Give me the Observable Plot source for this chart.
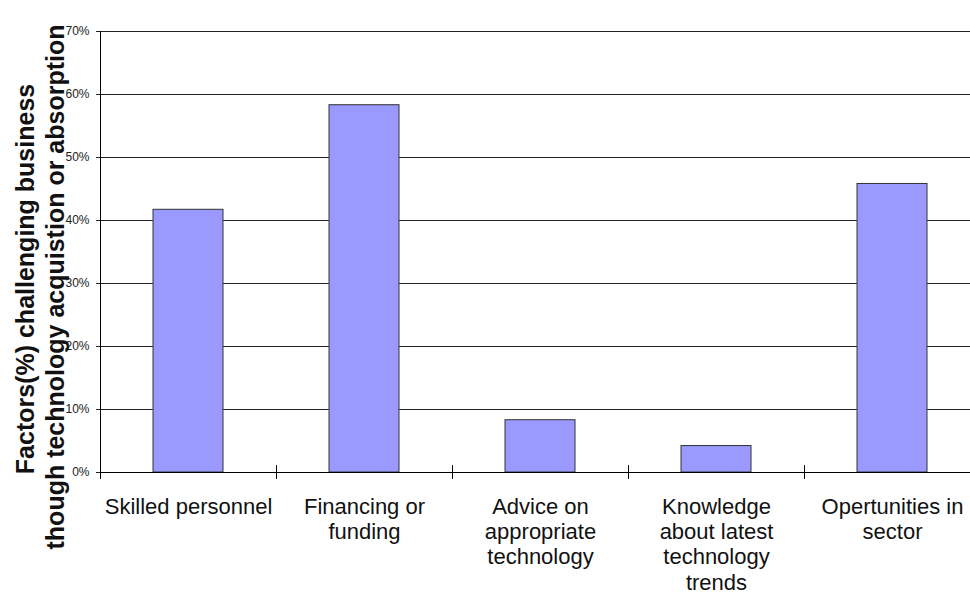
<!DOCTYPE html>
<html>
<head>
<meta charset="utf-8">
<script src="https://cdn.jsdelivr.net/npm/d3@7"></script>
<script src="https://cdn.jsdelivr.net/npm/@observablehq/plot@0.6"></script>
<style>
  html, body { margin: 0; padding: 0; background: #fff; }
  #chart { width: 970px; height: 594px; overflow: hidden; }
</style>
</head>
<body>
<div id="chart"></div>
<script>
const categories = [
  "Skilled personnel",
  "Financing or funding",
  "Advice on appropriate technology",
  "Knowledge about latest technology trends",
  "Opertunities in sector"
];
const values = [0.417, 0.583, 0.083, 0.042, 0.458];
const tickLabels = [
  "Skilled personnel",
  "Financing or\nfunding",
  "Advice on\nappropriate\ntechnology",
  "Knowledge\nabout latest\ntechnology\ntrends",
  "Opertunities in\nsector"
];
const yTicks = [0, 0.1, 0.2, 0.3, 0.4, 0.5, 0.6, 0.7];
const yLabelLines = [
  "Factors(%) challenging business",
  "though technology acquistion or absorption"
];

const data = categories.map((c, i) => ({category: c, value: values[i], label: tickLabels[i]}));
const halfStep = -88;

const chart = Plot.plot({
  width: 970,
  height: 594,
  marginLeft: 100,
  marginRight: -10,
  marginTop: 31,
  marginBottom: 122,
  style: {fontFamily: "Arial, 'Liberation Sans', sans-serif", fontSize: "12px", color: "#222", background: "#fff"},
  x: {domain: categories, paddingInner: 0.6, paddingOuter: 0.3, axis: null},
  y: {domain: [0, 0.7], ticks: yTicks, tickFormat: d3.format(".0%"), tickSize: 4, tickPadding: 7, label: null},
  marks: [
    Plot.ruleY(yTicks, {stroke: "#222", strokeWidth: 1}),
    Plot.barY(data, {x: "category", y: "value", fill: "#9999FF", stroke: "#333", strokeWidth: 1}),
    Plot.ruleX([categories[0]], {dx: halfStep, y1: 0, y2: 0.7, stroke: "#000", strokeWidth: 1}),
    Plot.ruleY([0], {stroke: "#000", strokeWidth: 1}),
    Plot.ruleX(categories, {dx: halfStep, y1: -0.011, y2: 0.011, stroke: "#000", strokeWidth: 1}),
    Plot.text(data, {x: "category", y: () => 0, text: "label", lineAnchor: "top", dy: 24, lineHeight: 1.14, fontSize: 22, fill: "#111"}),
    Plot.text([yLabelLines[0]], {text: d => d, frameAnchor: "left", textAnchor: "middle", rotate: -90, dx: -75, dy: 27, fontSize: 25, fontWeight: "bold", fill: "#111"}),
    Plot.text([yLabelLines[1]], {text: d => d, frameAnchor: "left", textAnchor: "middle", rotate: -90, dx: -45, dy: 35, fontSize: 25, fontWeight: "bold", fill: "#111"})
  ]
});
document.getElementById("chart").appendChild(chart);
</script>
</body>
</html>
